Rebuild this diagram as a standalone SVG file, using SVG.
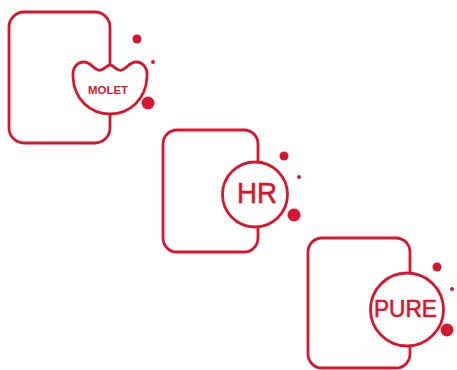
<svg xmlns="http://www.w3.org/2000/svg" width="457" height="370" viewBox="0 0 457 370">
<style>
.card{fill:#fff;stroke:#d3172e;stroke-width:2.8}
.badge{fill:#fff;stroke:#d3172e;stroke-width:2.8}
.dot{fill:#d3172e}
.lbl{fill:#d3172e;font-family:"Liberation Sans",Arial,sans-serif;text-anchor:middle}
.big{stroke:#d3172e;stroke-width:0.6}
</style>
<rect width="457" height="370" fill="#fff"/>
<g id="connectors"></g>
<g id="molet">
<rect class="card" x="9" y="12" width="101" height="131" rx="15"/>
<path class="badge" d="M73,77 C72,67 78,62 84,62 C90,62 93,68 98,70 C103,72 106,65 110,65 C114,65 117,72 122,70 C127,68 130,62 136,62 C142,62 148,67 147,77 C146,99 130,114 110,114 C90,114 74,99 73,77 Z"/>
<text class="lbl" x="108" y="93.5" font-size="11" font-weight="bold" textLength="40" lengthAdjust="spacingAndGlyphs">MOLET</text>
<circle class="dot" cx="137" cy="39" r="4.5"/>
<circle class="dot" cx="153" cy="62" r="2"/>
<circle class="dot" cx="148" cy="103" r="6.5"/>
</g>
<g id="hr">
<rect class="card" x="163" y="130" width="95" height="122" rx="14"/>
<circle class="badge" cx="255" cy="194.5" r="32.5"/>
<text class="lbl big" x="257" y="203" font-size="29" textLength="40" lengthAdjust="spacingAndGlyphs">HR</text>
<circle class="dot" cx="284" cy="156" r="4.5"/>
<circle class="dot" cx="299" cy="177" r="2"/>
<circle class="dot" cx="294" cy="215" r="6.5"/>
</g>
<g id="pure">
<rect class="card" x="308" y="238" width="102" height="130" rx="14"/>
<circle class="badge" cx="407" cy="309.5" r="36.5"/>
<text class="lbl big" x="405.5" y="317" font-size="24" textLength="63" lengthAdjust="spacingAndGlyphs">PURE</text>
<circle class="dot" cx="437" cy="267" r="4.5"/>
<circle class="dot" cx="452" cy="289" r="2"/>
<circle class="dot" cx="447" cy="330" r="6.5"/>
</g>
</svg>
